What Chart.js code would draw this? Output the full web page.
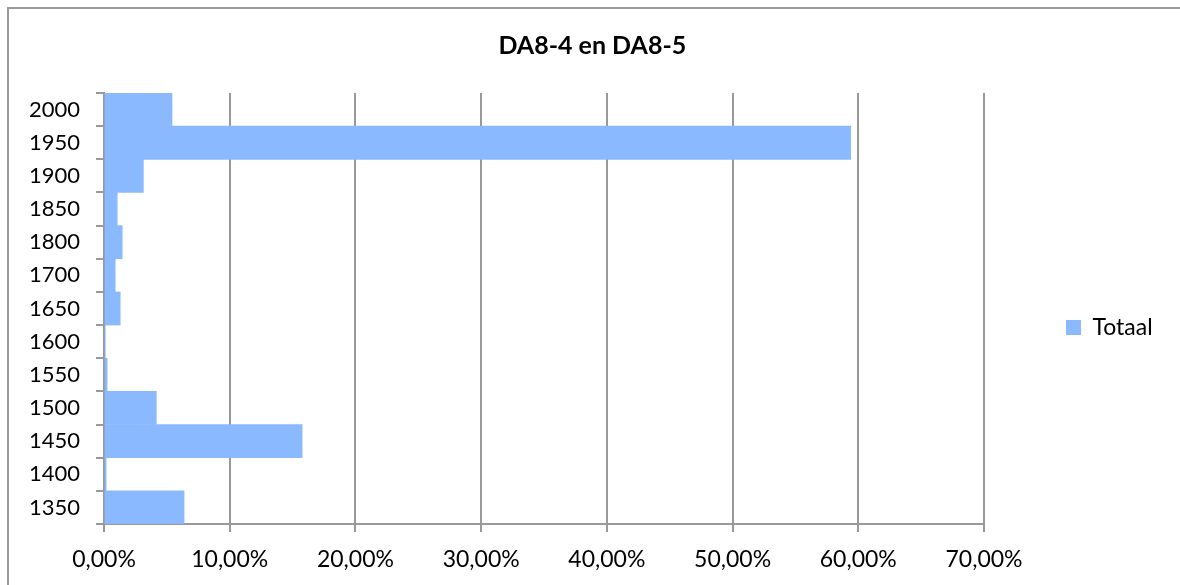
<!DOCTYPE html>
<html lang="nl">
<head>
  <meta charset="UTF-8" />
  <title>DA8-4 en DA8-5</title>
  <style>
    html, body { margin: 0; padding: 0; background: #fff; overflow: hidden; }
    #chart { display: block; }
  </style>
</head>
<body>
  <canvas id="chart" width="1180" height="585"></canvas>

  <script src="https://cdn.jsdelivr.net/npm/chart.js"></script>
  <script>
    const years = ['1350', '1400', '1450', '1500', '1550', '1600', '1650', '1700', '1800', '1850', '1900', '1950', '2000'];
    const totaal = [6.37, 0.17, 15.76, 4.16, 0.25, 0.1, 1.29, 0.89, 1.45, 1.05, 3.13, 59.4, 5.41];
    const xTicks = [0, 10, 20, 30, 40, 50, 60, 70];

    const FONT = 'Lato';
    const gridColor = '#999999';

    // legend sits right of the plot, work out the padding from the text width
    const legendFont = 23;
    const boxW = 15;
    const m = document.createElement('canvas').getContext('2d');
    m.font = legendFont + 'px ' + FONT;
    const itemW = boxW + legendFont / 2 + m.measureText('Totaal').width;
    const padRight = Math.max(0, 104 - itemW);
    const padLeft = 22;

    // outer frame of the chart object (only left and top edge are in view)
    const framePlugin = {
      id: 'frame',
      beforeDraw(chart) {
        const c = chart.ctx;
        c.save();
        c.strokeStyle = '#9a9a9a';
        c.lineWidth = 2;
        c.beginPath();
        c.moveTo(8, chart.height);
        c.lineTo(8, 8);
        c.lineTo(chart.width, 8);
        c.stroke();
        c.restore();
      }
    };

    const ctx = document.getElementById('chart').getContext('2d');
    new Chart(ctx, {
      type: 'bar',
      data: {
        labels: years,
        datasets: [{
          label: 'Totaal',
          data: totaal,
          backgroundColor: '#8ab9ff',
          borderWidth: 0,
          categoryPercentage: 1.0,
          barPercentage: 1.0
        }]
      },
      plugins: [framePlugin],
      options: {
        indexAxis: 'y',
        responsive: false,
        animation: false,
        layout: { padding: { left: padLeft, top: 0, right: padRight, bottom: 0 } },
        plugins: {
          title: {
            display: true,
            text: 'DA8-4 en DA8-5',
            color: '#000',
            font: { family: FONT, size: 25, weight: 'bold' },
            padding: { top: 31, bottom: 32 }
          },
          legend: {
            position: 'right',
            title: { display: true, text: '', padding: { top: 35, bottom: 35 }, font: { size: 0, lineHeight: 0 } },
            labels: {
              color: '#000',
              font: { family: FONT, size: legendFont },
              boxWidth: boxW,
              boxHeight: boxW,
              padding: 82
            }
          },
          tooltip: { enabled: false }
        },
        scales: {
          x: {
            min: 0,
            max: 70,
            afterBuildTicks: axis => { axis.ticks = xTicks.map(v => ({ value: v })); },
            afterFit: axis => { axis.height = 61; },
            grid: { color: gridColor, lineWidth: 2, tickLength: 8 },
            border: { color: gridColor, width: 2 },
            ticks: {
              color: '#000',
              font: { family: FONT, size: 23 },
              padding: 14,
              maxRotation: 0,
              callback: v => v.toFixed(2).replace('.', ',') + '%'
            }
          },
          y: {
            reverse: true,
            afterFit: axis => { axis.width = 104 - padLeft; },
            grid: { drawOnChartArea: false, color: gridColor, lineWidth: 2, tickLength: 8, offset: true },
            border: { color: gridColor, width: 2 },
            ticks: {
              color: '#000',
              font: { family: FONT, size: 22 },
              padding: 16
            }
          }
        }
      }
    });
  </script>
</body>
</html>
